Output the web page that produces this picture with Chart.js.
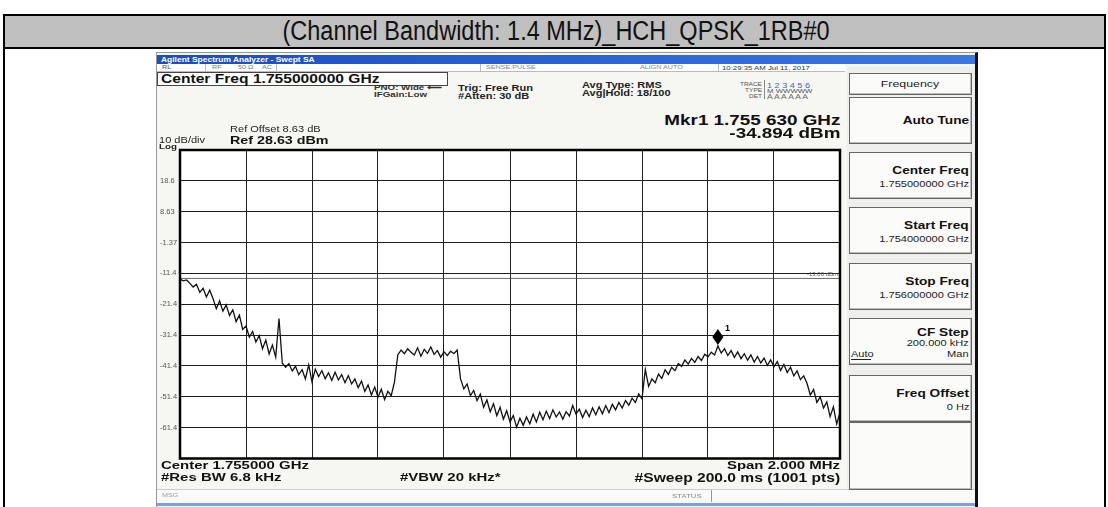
<!DOCTYPE html>
<html>
<head>
<meta charset="utf-8">
<title>(Channel Bandwidth: 1.4 MHz)_HCH_QPSK_1RB#0</title>
<script src="https://cdn.jsdelivr.net/npm/chart.js@4.4.1/dist/chart.umd.min.js"></script>
<style>
  body { margin:0; width:1108px; height:507px; overflow:hidden; background:#fff; position:relative;
         font-family:Arial,"Liberation Sans",sans-serif; }
  .box { position:absolute; box-sizing:border-box; }
  .txt { position:absolute; white-space:nowrap; line-height:1; }
  #chartWrap { position:absolute; left:160px; top:140px; width:686px; height:325px; }
</style>
</head>
<body>
<!-- outer table -->
<div class="box" style="left:3px;top:14px;width:1103px;height:520px;border:2px solid #000;"></div>
<div class="box" style="left:3px;top:14px;width:1103px;height:35px;background:#c0c0c0;border:2px solid #000;"></div>
<div class="txt" style="left:556px;top:31px;font-size:27px;color:#111;transform:translate(-50%,-50%) scaleX(0.87);">(Channel Bandwidth: 1.4 MHz)_HCH_QPSK_1RB#0</div>

<!-- analyzer screen -->
<div class="box" style="left:156px;top:52px;width:822px;height:470px;background:#f6f6f3;border:1px solid #999;border-right:3px solid #111;"></div>
<div class="box" style="left:157px;top:55px;width:818px;height:9px;background:linear-gradient(to right,#1b4cc0,#3b78e4);"></div>
<div class="box" style="left:157px;top:64px;width:688px;height:8px;background:#fff;border-bottom:1px solid #bbb;"></div>
<div class="box" style="left:157px;top:72px;width:291px;height:14px;border:1px solid #444;background:#fff;"></div>
<div class="box" style="left:847px;top:66px;width:128px;height:430px;background:#efefed;"></div>
<div class="box" style="left:157px;top:489px;width:818px;height:14px;background:#fafafa;border-top:1px solid #ccc;"></div>
<div class="box" style="left:157px;top:503px;width:818px;height:3px;background:#7f9fe0;"></div>
<div class="box" style="left:711px;top:490px;width:1px;height:12px;background:#999;"></div>

<div id="chartWrap"><canvas id="sa" width="686" height="325"></canvas></div>

<script>
// sweep: 1.754 GHz .. 1.756 GHz, 201 points (dBm)
const freqStartMHz = 1754.0;
const freqStepMHz = 0.01;
const traceDbm = [
  -13.2, -13.8, -13.5, -14.6, -15.8, -14.9, -17.5, -16.2, -19.0, -16.8,
  -19.5, -22.8, -20.3, -23.6, -21.6, -25.0, -23.2, -27.0, -24.9, -29.5,
  -28.4, -32.0, -30.2, -33.6, -31.5, -35.8, -33.0, -37.5, -34.6, -38.5,
  -26.0, -40.5, -41.8, -40.6, -43.0, -41.5, -44.2, -42.6, -45.6, -41.0,
  -46.5, -42.4, -44.8, -42.9, -45.5, -43.6, -46.0, -43.4, -45.9, -44.2,
  -46.8, -44.5, -47.2, -45.6, -48.4, -46.3, -49.6, -47.5, -50.8, -48.2,
  -51.5, -48.9, -52.3, -49.6, -51.0, -46.5, -37.8, -36.2, -37.4, -35.8,
  -36.9, -37.8, -35.5, -38.2, -36.0, -37.3, -35.2, -37.6, -36.4, -38.5,
  -36.8, -38.0, -36.6, -37.4, -36.2, -45.5, -48.8, -47.2, -51.0, -49.3,
  -52.6, -50.5, -54.8, -52.4, -56.2, -53.6, -57.5, -54.8, -58.6, -55.9,
  -59.5, -57.4, -61.2, -58.3, -60.6, -57.9, -60.1, -57.0, -59.5, -56.4,
  -58.8, -56.0, -58.4, -55.6, -57.9, -56.3, -58.6, -56.2, -57.6, -54.2,
  -57.0, -55.4, -58.1, -55.7, -57.8, -55.0, -57.2, -54.6, -56.9, -54.2,
  -56.5, -53.8, -55.6, -53.2, -55.0, -52.6, -54.1, -51.8, -53.2, -50.4,
  -52.0, -42.5, -48.0, -45.6, -46.8, -44.0, -45.4, -42.6, -44.1, -41.8,
  -42.9, -40.6, -41.5, -39.4, -40.8, -38.9, -40.2, -38.3, -39.6, -37.6,
  -38.4, -36.9, -37.8, -34.9, -37.2, -35.8, -38.0, -36.4, -38.6, -36.8,
  -39.0, -37.4, -39.5, -37.8, -40.1, -38.3, -40.4, -38.8, -41.2, -39.4,
  -41.6, -40.0, -42.8, -40.9, -43.5, -41.8, -44.6, -43.0, -45.8, -44.6,
  -47.0, -50.8, -49.0, -53.2, -51.4, -55.0, -53.0, -57.8, -54.6, -60.2,
  -56.5
];
const xTickValues = [1754.0, 1754.2, 1754.4, 1754.6, 1754.8, 1755.0, 1755.2, 1755.4, 1755.6, 1755.8, 1756.0];
const yTickValues = [28.63, 18.63, 8.63, -1.37, -11.37, -21.37, -31.37, -41.37, -51.37, -61.37, -71.37];
const yTickLabels = ['', '18.6', '8.63', '-1.37', '-11.4', '-21.4', '-31.4', '-41.4', '-51.4', '-61.4', ''];
const displayLineDbm = -13.0;
const markerFreqMHz = 1755.63;
const markerDbm = -34.894;

// ---- screen texts ----
const SX = 1.3;
function put(text, x, y, size, opts) {
  opts = opts || {};
  var el = document.createElement('div');
  var sx = opts.sx || SX;
  el.className = 'txt';
  el.textContent = text;
  el.style.fontSize = size + 'px';
  el.style.fontWeight = opts.bold ? 'bold' : 'normal';
  el.style.color = opts.color || '#111';
  el.style.top = y + 'px';
  if (opts.align == 'right') {
    el.style.right = (1108 - x) + 'px';
    el.style.transformOrigin = 'right center';
    el.style.transform = 'translateY(-50%) scaleX(' + sx + ')';
  } else if (opts.align == 'center') {
    el.style.left = x + 'px';
    el.style.transformOrigin = 'center center';
    el.style.transform = 'translate(-50%,-50%) scaleX(' + sx + ')';
  } else {
    el.style.left = x + 'px';
    el.style.transformOrigin = 'left center';
    el.style.transform = 'translateY(-50%) scaleX(' + sx + ')';
  }
  document.body.appendChild(el);
}
function rect(x, y, w, h, css) {
  var el = document.createElement('div');
  el.className = 'box';
  el.style.cssText = 'left:' + x + 'px;top:' + y + 'px;width:' + w + 'px;height:' + h + 'px;' + css;
  document.body.appendChild(el);
}

put('Agilent Spectrum Analyzer - Swept SA', 161, 59.5, 6.5, {bold: true, color: '#fff'});
put('RL', 162, 68, 5.5, {color: '#555'});
put('RF', 212, 68, 5.5, {color: '#777'});
put('50 Ω', 238, 68, 5.5, {color: '#777'});
put('AC', 262, 68, 5.5, {color: '#777'});
put('SENSE:PULSE', 486, 68, 5.5, {color: '#888'});
put('ALIGN AUTO', 640, 68, 5.5, {color: '#888'});
put('10:29:35 AM Jul 11, 2017', 722, 68, 6, {color: '#333'});
rect(205, 64, 1, 8, 'background:#bbb');
rect(276, 64, 1, 8, 'background:#bbb');
rect(480, 64, 1, 8, 'background:#bbb');
rect(718, 64, 1, 8, 'background:#bbb');

put('Center Freq 1.755000000 GHz', 161, 79, 12, {bold: true});
put('PNO: Wide  ⟵', 374, 88, 7.5, {bold: true, color: '#333'});
put('IFGain:Low', 374, 95, 7.5, {bold: true, color: '#333'});
put('Trig: Free Run', 458, 88, 8.5, {bold: true, color: '#222'});
put('#Atten: 30 dB', 458, 96, 8.5, {bold: true, color: '#222'});
put('Avg Type: RMS', 582, 85, 8.5, {bold: true, color: '#222'});
put('Avg|Hold: 18/100', 582, 93, 8.5, {bold: true, color: '#222'});
put('TRACE', 762, 84, 5, {align: 'right', color: '#555'});
put('TYPE', 762, 90, 5, {align: 'right', color: '#555'});
put('DET', 762, 96, 5, {align: 'right', color: '#555'});
rect(764, 80, 1, 19, 'background:#888');
put('1 2 3 4 5 6', 767, 84.5, 7, {color: '#4466aa'});
put('M WWWWW', 767, 90.5, 6, {color: '#555'});
put('A A A A A A', 767, 96.5, 6.5, {color: '#666'});

put('Mkr1 1.755 630 GHz', 840, 120, 14.5, {bold: true, align: 'right'});
put('-34.894 dBm', 840, 133, 14.5, {bold: true, align: 'right'});
put('Ref Offset 8.63 dB', 230, 129, 8.5, {color: '#222'});
put('Ref 28.63 dBm', 230, 139.5, 11, {bold: true});
put('10 dB/div', 159, 140, 8.5, {color: '#222'});
put('Log', 159, 146.5, 7.5, {bold: true, color: '#222'});

put('Center 1.755000 GHz', 161, 466, 11.5, {bold: true});
put('#Res BW 6.8 kHz', 161, 478, 11.5, {bold: true});
put('#VBW 20 kHz*', 400, 478, 11.5, {bold: true});
put('Span 2.000 MHz', 840, 466, 11.5, {bold: true, align: 'right'});
put('#Sweep  200.0 ms (1001 pts)', 840, 478, 12, {bold: true, align: 'right'});
put('MSG', 162, 496, 5.5, {color: '#999'});
put('STATUS', 672, 496, 6, {color: '#888'});

// softkeys on the right
const keyCss = 'background:#fbfbfa;border:1px solid #666;box-shadow:inset -1px -1px 0 #bbb;';
rect(849, 73, 123, 22, keyCss);
put('Frequency', 910, 84, 9.5, {align: 'center', color: '#222'});
const softkeys = [
  {top: 97,  title: 'Auto Tune'},
  {top: 152, title: 'Center Freq', sub: '1.755000000 GHz'},
  {top: 207, title: 'Start Freq', sub: '1.754000000 GHz'},
  {top: 263, title: 'Stop Freq', sub: '1.756000000 GHz'},
  {top: 318, title: 'CF Step', sub: '200.000 kHz', extra: true},
  {top: 375, title: 'Freq Offset', sub: '0 Hz'}
];
softkeys.forEach(function(k) {
  rect(849, k.top, 123, 47, keyCss);
  if (!k.sub) {
    put(k.title, 969, k.top + 23, 10.5, {bold: true, align: 'right'});
  } else if (k.extra) {
    put(k.title, 969, k.top + 14, 10.5, {bold: true, align: 'right'});
    put(k.sub, 969, k.top + 25, 8.5, {align: 'right', color: '#222'});
    put('Auto', 851, k.top + 36, 8.5, {color: '#222'});
    rect(851, k.top + 41, 20, 1, 'background:#222');
    put('Man', 969, k.top + 36, 8.5, {align: 'right', color: '#222'});
  } else {
    put(k.title, 969, k.top + 18, 10.5, {bold: true, align: 'right'});
    put(k.sub, 969, k.top + 32, 8.5, {align: 'right', color: '#222'});
  }
});
rect(849, 422, 123, 68, keyCss);

// ---- chart ----
var tracePoints = traceDbm.map(function(v, i) {
  return {x: freqStartMHz + i * freqStepMHz, y: v};
});

var screenPlugin = {
  id: 'screen',
  beforeDraw: function(chart) {
    var a = chart.chartArea, ctx = chart.ctx;
    ctx.save();
    ctx.fillStyle = '#fff';
    ctx.fillRect(a.left, a.top, a.right - a.left, a.bottom - a.top);
    ctx.restore();
  },
  afterDatasetsDraw: function(chart) {
    var a = chart.chartArea, ctx = chart.ctx;
    var xs = chart.scales.x, ys = chart.scales.y;
    ctx.save();
    // display line label
    ctx.font = '6px Arial';
    ctx.fillStyle = '#555';
    ctx.textAlign = 'right';
    ctx.textBaseline = 'bottom';
    ctx.fillText('-13.00 dBm', a.right - 2, ys.getPixelForValue(displayLineDbm) - 1);
    // marker 1
    var mx = xs.getPixelForValue(markerFreqMHz);
    var my = ys.getPixelForValue(markerDbm) - 1;
    ctx.fillStyle = '#000';
    ctx.beginPath();
    ctx.moveTo(mx, my);
    ctx.lineTo(mx + 5.5, my - 8);
    ctx.lineTo(mx, my - 16);
    ctx.lineTo(mx - 5.5, my - 8);
    ctx.closePath();
    ctx.fill();
    ctx.font = 'bold 9px Arial';
    ctx.textAlign = 'left';
    ctx.textBaseline = 'middle';
    ctx.fillText('1', mx + 7, my - 16);
    // frame of the graticule
    ctx.strokeStyle = '#000';
    ctx.lineWidth = 2.5;
    ctx.strokeRect(a.left, a.top, a.right - a.left, a.bottom - a.top);
    ctx.restore();
  }
};

new Chart(document.getElementById('sa').getContext('2d'), {
  type: 'line',
  data: {
    datasets: [{
      label: 'Trace 1',
      data: tracePoints,
      borderColor: '#111',
      borderWidth: 1.3,
      pointRadius: 0,
      tension: 0
    }, {
      label: 'Display line',
      data: [{x: 1754.0, y: displayLineDbm}, {x: 1756.0, y: displayLineDbm}],
      borderColor: '#444',
      borderWidth: 0.8,
      pointRadius: 0
    }]
  },
  options: {
    responsive: false,
    animation: false,
    events: [],
    layout: { padding: {left: 0, right: 6, top: 10, bottom: 6} },
    plugins: {
      legend: { display: false },
      tooltip: { enabled: false }
    },
    scales: {
      x: {
        type: 'linear',
        min: 1754.0,
        max: 1756.0,
        afterBuildTicks: function(s) { s.ticks = xTickValues.map(function(v) { return {value: v}; }); },
        afterFit: function(s) { s.height = 0; },
        grid: { color: '#1e1e1e', lineWidth: 1, drawTicks: false },
        border: { display: false },
        ticks: { display: false }
      },
      y: {
        min: -71.37,
        max: 28.63,
        afterBuildTicks: function(s) { s.ticks = yTickValues.map(function(v) { return {value: v}; }); },
        afterFit: function(s) { s.width = 20; },
        grid: { color: '#1e1e1e', lineWidth: 1, drawTicks: false },
        border: { display: false },
        ticks: {
          crossAlign: 'far',
          padding: 2,
          color: '#555',
          font: { size: 7.5, family: 'Arial' },
          callback: function(v, i) { return yTickLabels[i]; }
        }
      }
    }
  },
  plugins: [screenPlugin]
});
</script>
</body>
</html>
